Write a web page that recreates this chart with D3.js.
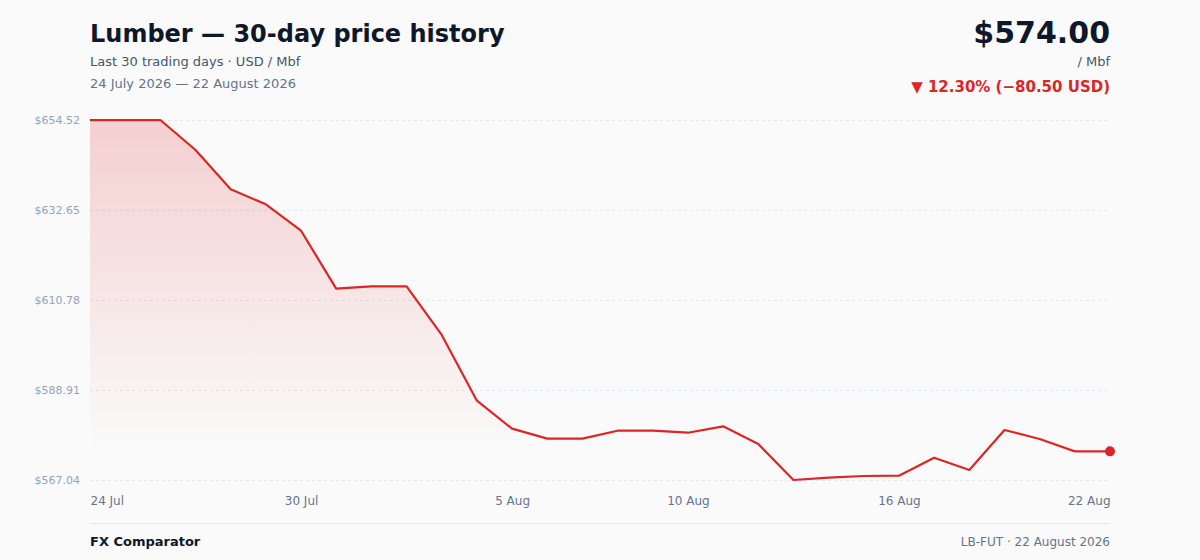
<!DOCTYPE html>
<html>
<head>
<meta charset="utf-8">
<script src="https://cdn.jsdelivr.net/npm/d3@7"></script>
<style>
  body { margin: 0; background: #fafafa; font-family: "DejaVu Sans", sans-serif; }
  svg { display: block; }
</style>
</head>
<body>
<div id="container"></div>
<script>
// data
let dates = [
  "2026-07-24","2026-07-25","2026-07-26","2026-07-27","2026-07-28","2026-07-29",
  "2026-07-30","2026-07-31","2026-08-01","2026-08-02","2026-08-03","2026-08-04",
  "2026-08-05","2026-08-06","2026-08-07","2026-08-08","2026-08-09","2026-08-10",
  "2026-08-11","2026-08-12","2026-08-13","2026-08-14","2026-08-15","2026-08-16",
  "2026-08-17","2026-08-18","2026-08-19","2026-08-20","2026-08-21","2026-08-22"
];
let prices = [
  654.50, 654.50, 654.52, 647.23, 637.68, 634.04,
  627.62, 613.53, 614.11, 614.11, 602.28, 586.31,
  579.51, 577.08, 577.08, 579.02, 579.02, 578.53,
  580.09, 575.79, 567.04, 567.60, 568.01, 568.08,
  572.46, 569.47, 579.19, 577.00, 574.00, 574.00
];
let yTicks = [567.04, 588.91, 610.78, 632.65, 654.52];
let xTickIndex = [0, 6, 12, 17, 23, 29];

let w = 1200;
let h = 560;
let padLeft = 90;
let padRight = 1110;
let padTop = 120;
let padBottom = 480;
let red = "#dc2626";

let parse = d3.timeParse("%Y-%m-%d");
let data = dates.map(function(d, i){
  return { date: parse(d), price: prices[i] };
});

let viz = d3.select("#container")
  .append("svg")
    .attr("width", w)
    .attr("height", h)
;

viz.append("rect").attr("width", w).attr("height", h).attr("fill", "#fafafa");

let xScale = d3.scaleTime()
  .domain(d3.extent(data, function(d){ return d.date; }))
  .range([padLeft, padRight]);
let yScale = d3.scaleLinear()
  .domain([yTicks[0], yTicks[yTicks.length - 1]])
  .range([padBottom, padTop]);

// gradient for the area
let defs = viz.append("defs");
let grad = defs.append("linearGradient")
  .attr("id", "fillGrad")
  .attr("x1", 0).attr("y1", 0).attr("x2", 0).attr("y2", 1);
grad.append("stop").attr("offset", "0%").attr("stop-color", red).attr("stop-opacity", 0.2);
grad.append("stop").attr("offset", "92%").attr("stop-color", red).attr("stop-opacity", 0);

// y axis with grid lines
let yAxis = d3.axisLeft(yScale)
  .tickValues(yTicks)
  .tickSize(-(padRight - padLeft))
  .tickPadding(10)
  .tickFormat(function(d){ return "$" + d.toFixed(2); });
let yAxisGroup = viz.append("g")
  .attr("class", "yaxisgroup")
  .attr("transform", "translate(" + padLeft + ",0)")
  .call(yAxis);
yAxisGroup.select(".domain").remove();
yAxisGroup.selectAll("line")
  .attr("stroke", "#e2e8f0")
  .attr("stroke-dasharray", "3,3");
yAxisGroup.selectAll("text")
  .attr("fill", "#94a3b8")
  .style("font-size", "11px")
  .style("font-family", "DejaVu Sans");

// x axis
let fmt = d3.timeFormat("%-d %b");
let xAxis = d3.axisBottom(xScale)
  .tickValues(xTickIndex.map(function(i){ return data[i].date; }))
  .tickSize(0)
  .tickPadding(16)
  .tickFormat(fmt);
let xAxisGroup = viz.append("g")
  .attr("class", "xaxisgroup")
  .attr("transform", "translate(0," + padBottom + ")")
  .call(xAxis);
xAxisGroup.select(".domain").remove();
xAxisGroup.selectAll("text")
  .attr("fill", "#64748b")
  .style("font-size", "12px")
  .style("font-family", "DejaVu Sans")
  .attr("text-anchor", function(d, i){
    if (i == 0) return "start";
    if (i == xTickIndex.length - 1) return "end";
    return "middle";
  });

let graphGroup = viz.append("g").attr("class", "graphGroup");

let areaMaker = d3.area()
  .x(function(d){ return xScale(d.date); })
  .y0(padBottom)
  .y1(function(d){ return yScale(d.price); });
let lineMaker = d3.line()
  .x(function(d){ return xScale(d.date); })
  .y(function(d){ return yScale(d.price); });

graphGroup.append("path")
  .datum(data)
  .attr("d", areaMaker)
  .attr("fill", "url(#fillGrad)");

graphGroup.append("path")
  .datum(data)
  .attr("d", lineMaker)
  .attr("fill", "none")
  .attr("stroke", red)
  .attr("stroke-width", 2.2)
  .attr("stroke-linejoin", "round");

let last = data[data.length - 1];
graphGroup.append("circle")
  .attr("cx", xScale(last.date))
  .attr("cy", yScale(last.price))
  .attr("r", 5)
  .attr("fill", red);

// header
let first = data[0];
let change = last.price - first.price;
let pct = Math.abs(change / first.price * 100);

viz.append("text").attr("x", padLeft).attr("y", 42)
  .text("Lumber — 30-day price history")
  .attr("fill", "#0f172a").style("font-size", "24px").style("font-weight", "bold");
viz.append("text").attr("x", padLeft).attr("y", 66)
  .text("Last 30 trading days · USD / Mbf")
  .attr("fill", "#475569").style("font-size", "13px");
viz.append("text").attr("x", padLeft).attr("y", 88)
  .text("24 July 2026 — 22 August 2026")
  .attr("fill", "#64748b").style("font-size", "13px");

viz.append("text").attr("x", padRight).attr("y", 43)
  .attr("text-anchor", "end")
  .text("$" + last.price.toFixed(2))
  .attr("fill", "#0f172a").style("font-size", "30px").style("font-weight", "bold");
viz.append("text").attr("x", padRight).attr("y", 66)
  .attr("text-anchor", "end")
  .text("/ Mbf")
  .attr("fill", "#475569").style("font-size", "13px");
viz.append("text").attr("x", padRight).attr("y", 92)
  .attr("text-anchor", "end")
  .text("▼ " + pct.toFixed(2) + "% (−" + Math.abs(change).toFixed(2) + " USD)")
  .attr("fill", red).style("font-size", "15px").style("font-weight", "bold");

// footer
viz.append("line")
  .attr("x1", padLeft).attr("x2", padRight)
  .attr("y1", 523.5).attr("y2", 523.5)
  .attr("stroke", "#e5e7eb");
viz.append("text").attr("x", padLeft).attr("y", 546)
  .text("FX Comparator")
  .attr("fill", "#0f172a").style("font-size", "13px").style("font-weight", "bold");
viz.append("text").attr("x", padRight).attr("y", 546)
  .attr("text-anchor", "end")
  .text("LB-FUT · 22 August 2026")
  .attr("fill", "#64748b").style("font-size", "12px");
</script>
</body>
</html>
